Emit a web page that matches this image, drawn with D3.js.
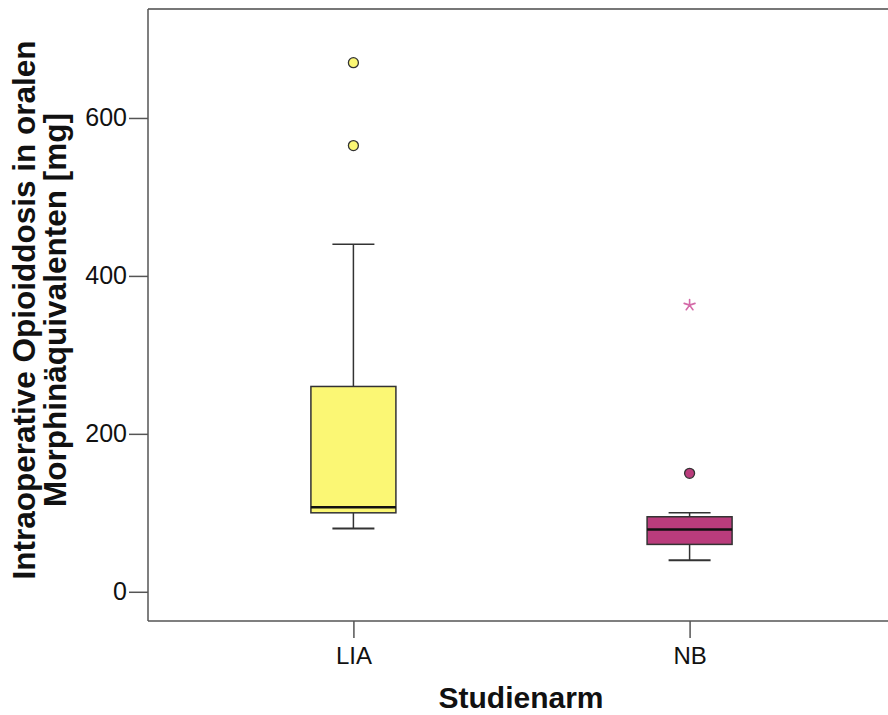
<!DOCTYPE html>
<html>
<head>
<meta charset="utf-8">
<script src="https://cdn.jsdelivr.net/npm/d3@7"></script>
<style>
  html, body { margin: 0; padding: 0; background: #fff; }
  svg { display: block; font-family: "Liberation Sans", Arial, Helvetica, sans-serif; }
  .axis text { fill: #111; font-size: 25px; }
  .axis line, .axis path { stroke: #555; stroke-width: 1.5; }
  .axis-title { font-weight: bold; fill: #111; }
</style>
</head>
<body>
<svg id="chart" width="888" height="715"></svg>
<script>
const categories = ['LIA', 'NB'];
const lowerWhisker = [80, 40];
const q1 = [100, 60];
const median = [107, 79];
const q3 = [260, 95];
const upperWhisker = [440, 100];
const boxColors = ['#fbf774', '#ba3c7c'];
// circles = outliers, stars = extreme values
const outlierCategory = ['LIA', 'LIA', 'NB'];
const outlierValue = [670, 565, 150];
const extremeCategory = ['NB'];
const extremeValue = [363];
const extremeColor = '#d46aa8';
const yTicks = [0, 200, 400, 600];

const svg = d3.select('#chart');
const width = 888;
const plot = { left: 148, top: 9, right: 895, bottom: 621 };

const x = d3.scalePoint().domain(categories).range([plot.left, plot.right]).padding(0.611);
const y = d3.scaleLinear().domain([-37, 738]).range([plot.bottom, plot.top]);
const colorOf = d3.scaleOrdinal().domain(categories).range(boxColors);

const boxWidth = 85;
const capWidth = 42;

// frame top line
svg.append('line')
  .attr('x1', plot.left).attr('x2', width)
  .attr('y1', plot.top).attr('y2', plot.top)
  .attr('stroke', '#777').attr('stroke-width', 2);

const yAxis = d3.axisLeft(y).tickValues(yTicks).tickSize(19).tickPadding(2).tickSizeOuter(0);
const yAxisGroup = svg.append('g').attr('class', 'axis')
  .attr('transform', `translate(${plot.left},0)`).call(yAxis);
yAxisGroup.select('.domain').attr('d', `M0,${plot.top}V${plot.bottom}`);

const xAxis = d3.axisBottom(x).tickSize(17).tickPadding(9).tickSizeOuter(0);
const xAxisGroup = svg.append('g').attr('class', 'axis')
  .attr('transform', `translate(0,${plot.bottom})`).call(xAxis);
xAxisGroup.select('.domain').attr('d', `M${plot.left},0H${width}`);
xAxisGroup.selectAll('text').style('font-size', '24px');

const boxes = categories.map((cat, i) => ({
  cat, lo: lowerWhisker[i], q1: q1[i], med: median[i], q3: q3[i], hi: upperWhisker[i]
}));

const boxGroup = svg.append('g').selectAll('g').data(boxes).join('g');

// whisker stems
boxGroup.append('line')
  .attr('x1', (d) => x(d.cat)).attr('x2', (d) => x(d.cat))
  .attr('y1', (d) => y(d.q3)).attr('y2', (d) => y(d.hi))
  .attr('stroke', '#333').attr('stroke-width', 1.5);
boxGroup.append('line')
  .attr('x1', (d) => x(d.cat)).attr('x2', (d) => x(d.cat))
  .attr('y1', (d) => y(d.q1)).attr('y2', (d) => y(d.lo))
  .attr('stroke', '#333').attr('stroke-width', 1.5);

// whisker caps
boxGroup.append('line')
  .attr('x1', (d) => x(d.cat) - capWidth / 2).attr('x2', (d) => x(d.cat) + capWidth / 2)
  .attr('y1', (d) => y(d.hi)).attr('y2', (d) => y(d.hi))
  .attr('stroke', '#333').attr('stroke-width', 1.5);
boxGroup.append('line')
  .attr('x1', (d) => x(d.cat) - capWidth / 2).attr('x2', (d) => x(d.cat) + capWidth / 2)
  .attr('y1', (d) => y(d.lo)).attr('y2', (d) => y(d.lo))
  .attr('stroke', '#333').attr('stroke-width', 2);

// boxes
boxGroup.append('rect')
  .attr('x', (d) => x(d.cat) - boxWidth / 2)
  .attr('width', boxWidth)
  .attr('y', (d) => y(d.q3))
  .attr('height', (d) => y(d.q1) - y(d.q3))
  .attr('fill', (d) => colorOf(d.cat))
  .attr('stroke', '#333').attr('stroke-width', 1.5);

// medians
boxGroup.append('line')
  .attr('x1', (d) => x(d.cat) - boxWidth / 2).attr('x2', (d) => x(d.cat) + boxWidth / 2)
  .attr('y1', (d) => y(d.med)).attr('y2', (d) => y(d.med))
  .attr('stroke', '#111').attr('stroke-width', 2.5);

// outliers
const outliers = outlierCategory.map((cat, i) => ({ cat, value: outlierValue[i] }));
svg.append('g').selectAll('circle').data(outliers).join('circle')
  .attr('cx', (d) => x(d.cat))
  .attr('cy', (d) => y(d.value))
  .attr('r', 5)
  .attr('fill', (d) => colorOf(d.cat))
  .attr('stroke', '#333').attr('stroke-width', 1.3);

// extremes: five-spoke star like SPSS
const fiveSpoke = {
  draw(context, size) {
    const r = Math.sqrt(size) / 2;
    for (let k = 0; k < 5; k++) {
      const a = -Math.PI / 2 + k * 2 * Math.PI / 5;
      context.moveTo(0, 0);
      context.lineTo(r * Math.cos(a), r * Math.sin(a));
    }
  }
};
const extremes = extremeCategory.map((cat, i) => ({ cat, value: extremeValue[i] }));
svg.append('g').selectAll('path').data(extremes).join('path')
  .attr('transform', (d) => `translate(${x(d.cat)},${y(d.value)})`)
  .attr('d', d3.symbol().type(fiveSpoke).size(130))
  .attr('fill', 'none')
  .attr('stroke', extremeColor).attr('stroke-width', 1.6)
  .attr('stroke-linecap', 'round');

// axis titles
svg.append('text')
  .attr('class', 'axis-title')
  .attr('x', 521).attr('y', 708)
  .attr('text-anchor', 'middle')
  .style('font-size', '30px')
  .text('Studienarm');

const yTitle = svg.append('text')
  .attr('class', 'axis-title')
  .attr('transform', 'translate(35,310) rotate(-90)')
  .attr('text-anchor', 'middle')
  .style('font-size', '31.5px');
yTitle.append('tspan').attr('x', 0).attr('y', 0).text('Intraoperative Opioiddosis in oralen');
yTitle.append('tspan').attr('x', 0).attr('y', 31).text('Morphinäquivalenten [mg]');
</script>
</body>
</html>
